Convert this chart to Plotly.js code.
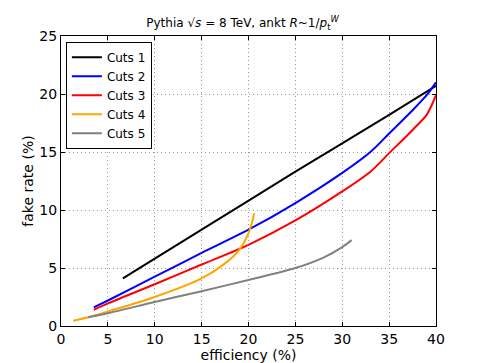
<!DOCTYPE html>
<html>
<head>
<meta charset="utf-8">
<script src="https://cdn.plot.ly/plotly-3.0.1.min.js"></script>
<style>body{margin:0;padding:0;background:#fff}#plot{width:485px;height:363px}</style>
</head>
<body>
<div id="plot"></div>
<script>
// values
var eff1 = [6.6, 15, 25, 35, 40];
var fake1 = [4.1, 8.3, 13.3, 18.2, 20.7];

var eff2 = [3.5, 5, 10, 15, 20, 25, 30, 33, 35, 37.5, 39, 40];
var fake2 = [1.6, 2.2, 4.25, 6.3, 8.3, 10.6, 13.2, 15.0, 16.6, 18.6, 19.9, 21.0];

var eff3 = [3.5, 5, 10, 15, 20, 25, 30, 33, 35, 37.5, 39, 40];
var fake3 = [1.4, 1.95, 3.6, 5.3, 7.0, 9.1, 11.6, 13.3, 14.9, 16.9, 18.2, 19.9];

var eff4 = [1.3, 3.1, 5, 10, 15, 17.5, 19, 20, 20.4, 20.6];
var fake4 = [0.45, 0.8, 1.25, 2.5, 4.1, 5.4, 6.55, 8.0, 9.0, 9.7];

var eff5 = [2.9, 5, 10, 15, 20, 25, 28, 30, 31];
var fake5 = [0.75, 1.1, 2.07, 3.0, 3.97, 5.0, 5.9, 6.8, 7.4];

var names = ['Cuts 1', 'Cuts 2', 'Cuts 3', 'Cuts 4', 'Cuts 5'];
var colors = ['black', 'blue', 'red', 'orange', 'gray'];

var xs = [eff1, eff2, eff3, eff4, eff5];
var ys = [fake1, fake2, fake3, fake4, fake5];

var data = [];
for (var i = 0; i < 5; i++) {
    data.push({
        x: xs[i],
        y: ys[i],
        mode: 'lines',
        type: 'scatter',
        name: names[i],
        line: {color: colors[i], width: 2, shape: 'spline', smoothing: 0.8}
    });
}

var axis = {
    showgrid: true,
    gridcolor: '#999',
    griddash: '1px,3px',
    gridwidth: 1,
    zeroline: false,
    showline: true,
    mirror: 'ticks',
    linecolor: 'black',
    linewidth: 1,
    ticks: 'inside',
    ticklen: 4,
    tickcolor: 'black',
    tickfont: {family: 'DejaVu Sans', size: 14, color: 'black'}
};

var layout = {
    width: 485,
    height: 363,
    margin: {l: 61, r: 49, t: 36, b: 37},
    paper_bgcolor: 'white',
    plot_bgcolor: 'white',
    font: {family: 'DejaVu Sans', color: 'black'},
    title: {
        text: 'Pythia √<i>s</i> = 8 TeV, ankt <i>R</i>~1/<i>p</i><sub>t</sub><sup><i>W</i></sup>',
        font: {family: 'DejaVu Sans', size: 12},
        x: 0.5, xanchor: 'center', y: 0.936, yanchor: 'middle'
    },
    xaxis: Object.assign({}, axis, {
        range: [0, 40], dtick: 5,
        title: {text: 'efficiency (%)', font: {size: 14}, standoff: 0}
    }),
    yaxis: Object.assign({}, axis, {
        range: [0, 25], dtick: 5,
        title: {text: 'fake rate (%)', font: {size: 14}, standoff: 2}
    }),
    legend: {
        x: 0.013, y: 0.98, xanchor: 'left', yanchor: 'top',
        bgcolor: 'white', bordercolor: 'black', borderwidth: 1,
        font: {family: 'DejaVu Sans', size: 12},
        itemwidth: 30,
        tracegroupgap: 0
    },
    showlegend: true
};

Plotly.newPlot('plot', data, layout, {staticPlot: true});
</script>
</body>
</html>
